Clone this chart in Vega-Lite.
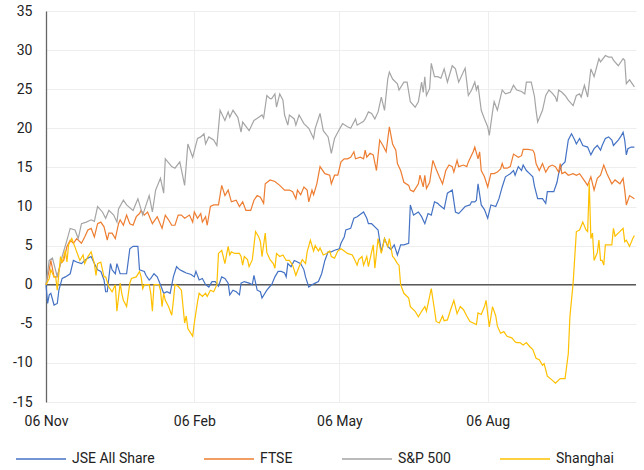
{
  "$schema": "https://vega.github.io/schema/vega-lite/v6.json",
  "width": 590,
  "height": 391,
  "autosize": {"type": "none"},
  "padding": {"left": 46, "top": 11, "right": 8, "bottom": 68},
  "background": "#ffffff",
  "config": {
    "font": "Roboto",
    "view": {"stroke": null},
    "axis": {"labelFont": "Roboto", "labelFontSize": 14, "labelColor": "#222222", "ticks": false, "gridColor": "#eeeeee", "gridWidth": 1, "title": null}
  },
  "datasets": {
    "jse": [
      {"date":"2023-11-06","value":0},{"date":"2023-11-07","value":-2.4},{"date":"2023-11-08","value":-1.3},{"date":"2023-11-09","value":-1.1},{"date":"2023-11-11","value":-2.6},{"date":"2023-11-13","value":-2.4},{"date":"2023-11-14","value":-0.7},{"date":"2023-11-16","value":0.8},{"date":"2023-11-18","value":1.0},{"date":"2023-11-21","value":1.4},{"date":"2023-11-23","value":3.1},{"date":"2023-11-25","value":2.9},{"date":"2023-11-28","value":2.7},{"date":"2023-11-30","value":3.1},{"date":"2023-12-02","value":3.4},{"date":"2023-12-04","value":3.6},{"date":"2023-12-06","value":2.7},{"date":"2023-12-08","value":1.9},{"date":"2023-12-10","value":1.7},{"date":"2023-12-12","value":0.6},{"date":"2023-12-13","value":-0.9},{"date":"2023-12-14","value":-0.9},{"date":"2023-12-16","value":2.7},{"date":"2023-12-17","value":1.9},{"date":"2023-12-19","value":1.4},{"date":"2023-12-20","value":2.7},{"date":"2023-12-22","value":1.4},{"date":"2023-12-24","value":1.4},{"date":"2023-12-26","value":1.4},{"date":"2023-12-28","value":4.6},{"date":"2023-12-30","value":4.9},{"date":"2024-01-02","value":4.9},{"date":"2024-01-03","value":1.9},{"date":"2024-01-06","value":1.7},{"date":"2024-01-07","value":1.2},{"date":"2024-01-09","value":0.6},{"date":"2024-01-10","value":0.8},{"date":"2024-01-12","value":1.4},{"date":"2024-01-14","value":1.0},{"date":"2024-01-16","value":0.0},{"date":"2024-01-18","value":-1.1},{"date":"2024-01-20","value":-0.9},{"date":"2024-01-22","value":-1.1},{"date":"2024-01-24","value":1.0},{"date":"2024-01-26","value":2.3},{"date":"2024-01-28","value":1.9},{"date":"2024-01-30","value":1.7},{"date":"2024-02-01","value":1.5},{"date":"2024-02-04","value":1.3},{"date":"2024-02-06","value":1.0},{"date":"2024-02-07","value":1.7},{"date":"2024-02-09","value":0.6},{"date":"2024-02-11","value":0.8},{"date":"2024-02-13","value":0.0},{"date":"2024-02-15","value":-0.3},{"date":"2024-02-17","value":0.4},{"date":"2024-02-19","value":0.4},{"date":"2024-02-21","value":-0.2},{"date":"2024-02-23","value":1.0},{"date":"2024-02-25","value":0.8},{"date":"2024-02-27","value":0.2},{"date":"2024-02-28","value":-1.3},{"date":"2024-03-01","value":-0.7},{"date":"2024-03-03","value":-0.9},{"date":"2024-03-05","value":-1.3},{"date":"2024-03-06","value":0.2},{"date":"2024-03-08","value":0.4},{"date":"2024-03-11","value":0.2},{"date":"2024-03-13","value":0.0},{"date":"2024-03-14","value":1.2},{"date":"2024-03-16","value":-0.7},{"date":"2024-03-18","value":-0.9},{"date":"2024-03-19","value":-1.7},{"date":"2024-03-22","value":-0.7},{"date":"2024-03-24","value":-0.2},{"date":"2024-03-25","value":0.0},{"date":"2024-03-27","value":1.0},{"date":"2024-03-29","value":1.7},{"date":"2024-03-31","value":1.7},{"date":"2024-04-02","value":1.5},{"date":"2024-04-03","value":1.0},{"date":"2024-04-04","value":2.7},{"date":"2024-04-06","value":2.3},{"date":"2024-04-08","value":3.1},{"date":"2024-04-10","value":2.9},{"date":"2024-04-12","value":2.7},{"date":"2024-04-14","value":1.9},{"date":"2024-04-15","value":1.0},{"date":"2024-04-17","value":-0.3},{"date":"2024-04-19","value":0.0},{"date":"2024-04-21","value":0.2},{"date":"2024-04-23","value":0.4},{"date":"2024-04-25","value":1.4},{"date":"2024-04-27","value":3.1},{"date":"2024-04-29","value":4.2},{"date":"2024-05-01","value":4.2},{"date":"2024-05-03","value":4.4},{"date":"2024-05-06","value":4.6},{"date":"2024-05-07","value":5.3},{"date":"2024-05-09","value":6.1},{"date":"2024-05-10","value":7.0},{"date":"2024-05-13","value":7.2},{"date":"2024-05-15","value":8.5},{"date":"2024-05-17","value":8.7},{"date":"2024-05-21","value":9.3},{"date":"2024-05-23","value":8.5},{"date":"2024-05-24","value":7.8},{"date":"2024-05-26","value":7.8},{"date":"2024-05-28","value":7.4},{"date":"2024-05-30","value":7.0},{"date":"2024-06-01","value":4.2},{"date":"2024-06-03","value":5.9},{"date":"2024-06-05","value":4.9},{"date":"2024-06-07","value":4.5},{"date":"2024-06-09","value":5.1},{"date":"2024-06-11","value":3.8},{"date":"2024-06-13","value":5.1},{"date":"2024-06-15","value":5.1},{"date":"2024-06-18","value":5.3},{"date":"2024-06-19","value":10.2},{"date":"2024-06-21","value":8.9},{"date":"2024-06-24","value":9.3},{"date":"2024-06-26","value":8.7},{"date":"2024-06-28","value":7.8},{"date":"2024-06-30","value":9.1},{"date":"2024-07-02","value":8.9},{"date":"2024-07-04","value":10.6},{"date":"2024-07-06","value":10.4},{"date":"2024-07-07","value":10.2},{"date":"2024-07-10","value":9.7},{"date":"2024-07-12","value":11.7},{"date":"2024-07-15","value":12.1},{"date":"2024-07-17","value":9.3},{"date":"2024-07-19","value":9.1},{"date":"2024-07-23","value":10.0},{"date":"2024-07-26","value":10.2},{"date":"2024-07-27","value":10.6},{"date":"2024-07-29","value":10.6},{"date":"2024-07-30","value":10.8},{"date":"2024-07-31","value":12.9},{"date":"2024-08-02","value":10.2},{"date":"2024-08-04","value":9.6},{"date":"2024-08-06","value":8.5},{"date":"2024-08-08","value":10.2},{"date":"2024-08-11","value":10.0},{"date":"2024-08-13","value":11.0},{"date":"2024-08-15","value":12.5},{"date":"2024-08-17","value":13.8},{"date":"2024-08-20","value":14.2},{"date":"2024-08-22","value":14.6},{"date":"2024-08-23","value":14.0},{"date":"2024-08-25","value":15.1},{"date":"2024-08-27","value":14.6},{"date":"2024-08-28","value":15.3},{"date":"2024-08-30","value":14.6},{"date":"2024-09-01","value":14.2},{"date":"2024-09-03","value":13.8},{"date":"2024-09-04","value":12.6},{"date":"2024-09-06","value":11.0},{"date":"2024-09-09","value":11.0},{"date":"2024-09-11","value":10.4},{"date":"2024-09-12","value":11.9},{"date":"2024-09-14","value":11.9},{"date":"2024-09-16","value":11.9},{"date":"2024-09-18","value":13.1},{"date":"2024-09-19","value":14.2},{"date":"2024-09-21","value":15.3},{"date":"2024-09-23","value":15.7},{"date":"2024-09-25","value":18.5},{"date":"2024-09-27","value":19.3},{"date":"2024-09-29","value":18.5},{"date":"2024-09-30","value":18.0},{"date":"2024-10-02","value":18.7},{"date":"2024-10-04","value":17.8},{"date":"2024-10-07","value":17.6},{"date":"2024-10-09","value":16.6},{"date":"2024-10-11","value":17.4},{"date":"2024-10-13","value":17.8},{"date":"2024-10-15","value":17.2},{"date":"2024-10-16","value":17.8},{"date":"2024-10-18","value":18.7},{"date":"2024-10-20","value":18.9},{"date":"2024-10-22","value":18.5},{"date":"2024-10-23","value":17.8},{"date":"2024-10-26","value":18.5},{"date":"2024-10-28","value":19.1},{"date":"2024-10-29","value":19.5},{"date":"2024-10-30","value":18.5},{"date":"2024-10-31","value":16.6},{"date":"2024-11-01","value":17.4},{"date":"2024-11-03","value":17.6},{"date":"2024-11-05","value":17.6}
    ],
    "ftse": [
      {"date":"2023-11-06","value":0},{"date":"2023-11-08","value":1.9},{"date":"2023-11-09","value":3.1},{"date":"2023-11-11","value":1.0},{"date":"2023-11-13","value":1.0},{"date":"2023-11-15","value":2.7},{"date":"2023-11-17","value":3.1},{"date":"2023-11-19","value":4.9},{"date":"2023-11-21","value":5.7},{"date":"2023-11-23","value":5.3},{"date":"2023-11-25","value":5.9},{"date":"2023-11-28","value":5.3},{"date":"2023-11-30","value":6.1},{"date":"2023-12-02","value":7.0},{"date":"2023-12-04","value":7.2},{"date":"2023-12-06","value":6.1},{"date":"2023-12-08","value":7.8},{"date":"2023-12-10","value":8.0},{"date":"2023-12-12","value":7.4},{"date":"2023-12-14","value":5.7},{"date":"2023-12-15","value":6.6},{"date":"2023-12-17","value":6.6},{"date":"2023-12-19","value":5.9},{"date":"2023-12-21","value":7.8},{"date":"2023-12-22","value":8.3},{"date":"2023-12-24","value":7.6},{"date":"2023-12-26","value":8.9},{"date":"2023-12-28","value":7.8},{"date":"2023-12-30","value":7.6},{"date":"2024-01-01","value":8.7},{"date":"2024-01-03","value":9.1},{"date":"2024-01-04","value":9.5},{"date":"2024-01-06","value":8.9},{"date":"2024-01-08","value":9.3},{"date":"2024-01-11","value":7.8},{"date":"2024-01-14","value":8.7},{"date":"2024-01-17","value":7.2},{"date":"2024-01-19","value":8.9},{"date":"2024-01-21","value":8.3},{"date":"2024-01-23","value":7.6},{"date":"2024-01-25","value":7.6},{"date":"2024-01-27","value":8.9},{"date":"2024-01-29","value":8.9},{"date":"2024-01-31","value":8.5},{"date":"2024-02-03","value":8.9},{"date":"2024-02-05","value":8.0},{"date":"2024-02-06","value":9.3},{"date":"2024-02-08","value":8.5},{"date":"2024-02-10","value":9.1},{"date":"2024-02-11","value":8.0},{"date":"2024-02-13","value":8.7},{"date":"2024-02-14","value":7.6},{"date":"2024-02-16","value":10.0},{"date":"2024-02-18","value":10.2},{"date":"2024-02-21","value":10.2},{"date":"2024-02-23","value":12.7},{"date":"2024-02-25","value":11.4},{"date":"2024-02-27","value":12.1},{"date":"2024-02-29","value":10.6},{"date":"2024-03-03","value":10.8},{"date":"2024-03-05","value":10.0},{"date":"2024-03-07","value":10.6},{"date":"2024-03-09","value":9.5},{"date":"2024-03-12","value":9.5},{"date":"2024-03-14","value":10.8},{"date":"2024-03-16","value":11.4},{"date":"2024-03-18","value":11.2},{"date":"2024-03-20","value":10.4},{"date":"2024-03-21","value":12.9},{"date":"2024-03-24","value":13.4},{"date":"2024-03-27","value":13.2},{"date":"2024-03-30","value":12.7},{"date":"2024-04-02","value":12.1},{"date":"2024-04-05","value":12.1},{"date":"2024-04-07","value":11.9},{"date":"2024-04-09","value":11.0},{"date":"2024-04-10","value":12.1},{"date":"2024-04-12","value":11.5},{"date":"2024-04-14","value":12.5},{"date":"2024-04-16","value":12.1},{"date":"2024-04-17","value":10.6},{"date":"2024-04-19","value":12.1},{"date":"2024-04-20","value":11.5},{"date":"2024-04-22","value":12.9},{"date":"2024-04-24","value":15.1},{"date":"2024-04-27","value":14.2},{"date":"2024-04-30","value":14.0},{"date":"2024-05-01","value":12.9},{"date":"2024-05-03","value":14.0},{"date":"2024-05-05","value":14.0},{"date":"2024-05-07","value":15.7},{"date":"2024-05-09","value":16.1},{"date":"2024-05-11","value":16.1},{"date":"2024-05-13","value":16.3},{"date":"2024-05-15","value":17.0},{"date":"2024-05-16","value":16.1},{"date":"2024-05-19","value":16.3},{"date":"2024-05-21","value":16.1},{"date":"2024-05-22","value":17.2},{"date":"2024-05-23","value":16.3},{"date":"2024-05-25","value":16.8},{"date":"2024-05-27","value":16.6},{"date":"2024-05-29","value":14.6},{"date":"2024-05-31","value":18.5},{"date":"2024-06-02","value":17.8},{"date":"2024-06-04","value":17.0},{"date":"2024-06-06","value":20.2},{"date":"2024-06-08","value":18.0},{"date":"2024-06-10","value":17.2},{"date":"2024-06-11","value":15.5},{"date":"2024-06-13","value":14.6},{"date":"2024-06-15","value":13.1},{"date":"2024-06-18","value":12.7},{"date":"2024-06-19","value":12.1},{"date":"2024-06-21","value":11.9},{"date":"2024-06-24","value":12.9},{"date":"2024-06-25","value":14.0},{"date":"2024-06-27","value":12.5},{"date":"2024-06-28","value":14.0},{"date":"2024-06-29","value":12.3},{"date":"2024-07-01","value":13.1},{"date":"2024-07-03","value":15.9},{"date":"2024-07-05","value":14.8},{"date":"2024-07-07","value":13.8},{"date":"2024-07-09","value":12.9},{"date":"2024-07-11","value":14.6},{"date":"2024-07-13","value":15.3},{"date":"2024-07-15","value":15.1},{"date":"2024-07-16","value":14.4},{"date":"2024-07-18","value":15.9},{"date":"2024-07-19","value":15.1},{"date":"2024-07-22","value":15.3},{"date":"2024-07-24","value":15.1},{"date":"2024-07-25","value":15.7},{"date":"2024-07-28","value":17.0},{"date":"2024-07-29","value":17.6},{"date":"2024-07-31","value":16.1},{"date":"2024-08-01","value":17.0},{"date":"2024-08-02","value":14.6},{"date":"2024-08-04","value":13.8},{"date":"2024-08-06","value":12.5},{"date":"2024-08-08","value":14.2},{"date":"2024-08-10","value":14.2},{"date":"2024-08-12","value":14.4},{"date":"2024-08-14","value":14.8},{"date":"2024-08-15","value":15.5},{"date":"2024-08-16","value":14.9},{"date":"2024-08-18","value":14.9},{"date":"2024-08-20","value":15.1},{"date":"2024-08-22","value":16.7},{"date":"2024-08-25","value":16.3},{"date":"2024-08-27","value":16.5},{"date":"2024-08-28","value":17.3},{"date":"2024-08-31","value":17.3},{"date":"2024-09-03","value":17.2},{"date":"2024-09-04","value":16.8},{"date":"2024-09-05","value":15.5},{"date":"2024-09-07","value":14.6},{"date":"2024-09-09","value":15.5},{"date":"2024-09-11","value":14.4},{"date":"2024-09-13","value":15.1},{"date":"2024-09-15","value":15.3},{"date":"2024-09-17","value":15.1},{"date":"2024-09-19","value":14.4},{"date":"2024-09-20","value":15.5},{"date":"2024-09-21","value":14.2},{"date":"2024-09-23","value":14.4},{"date":"2024-09-25","value":14.0},{"date":"2024-09-28","value":14.2},{"date":"2024-09-30","value":14.0},{"date":"2024-10-02","value":14.2},{"date":"2024-10-04","value":13.6},{"date":"2024-10-07","value":12.7},{"date":"2024-10-09","value":13.8},{"date":"2024-10-11","value":12.1},{"date":"2024-10-13","value":13.6},{"date":"2024-10-15","value":14.0},{"date":"2024-10-17","value":15.3},{"date":"2024-10-19","value":14.2},{"date":"2024-10-22","value":12.9},{"date":"2024-10-24","value":13.4},{"date":"2024-10-27","value":12.9},{"date":"2024-10-29","value":13.6},{"date":"2024-10-30","value":12.1},{"date":"2024-10-31","value":10.2},{"date":"2024-11-02","value":11.4},{"date":"2024-11-05","value":11.0}
    ],
    "sp": [
      {"date":"2023-11-06","value":0},{"date":"2023-11-08","value":3.1},{"date":"2023-11-10","value":3.4},{"date":"2023-11-13","value":1.0},{"date":"2023-11-16","value":3.6},{"date":"2023-11-19","value":5.7},{"date":"2023-11-21","value":7.2},{"date":"2023-11-24","value":7.0},{"date":"2023-11-26","value":5.9},{"date":"2023-11-28","value":7.8},{"date":"2023-12-01","value":8.0},{"date":"2023-12-04","value":8.3},{"date":"2023-12-06","value":8.1},{"date":"2023-12-08","value":10.0},{"date":"2023-12-11","value":9.3},{"date":"2023-12-13","value":8.5},{"date":"2023-12-15","value":9.5},{"date":"2023-12-18","value":8.9},{"date":"2023-12-20","value":8.0},{"date":"2023-12-21","value":9.7},{"date":"2023-12-24","value":10.8},{"date":"2023-12-26","value":10.2},{"date":"2023-12-30","value":9.5},{"date":"2024-01-02","value":11.0},{"date":"2024-01-05","value":8.9},{"date":"2024-01-09","value":11.4},{"date":"2024-01-11","value":9.3},{"date":"2024-01-13","value":12.1},{"date":"2024-01-16","value":13.6},{"date":"2024-01-18","value":11.7},{"date":"2024-01-19","value":16.1},{"date":"2024-01-23","value":15.1},{"date":"2024-01-25","value":14.9},{"date":"2024-01-28","value":15.7},{"date":"2024-01-31","value":12.7},{"date":"2024-02-02","value":18.0},{"date":"2024-02-05","value":16.3},{"date":"2024-02-08","value":18.7},{"date":"2024-02-10","value":18.9},{"date":"2024-02-12","value":19.3},{"date":"2024-02-13","value":18.0},{"date":"2024-02-15","value":18.9},{"date":"2024-02-18","value":18.5},{"date":"2024-02-20","value":17.8},{"date":"2024-02-22","value":22.3},{"date":"2024-02-25","value":21.0},{"date":"2024-02-27","value":22.1},{"date":"2024-02-28","value":21.4},{"date":"2024-03-01","value":22.3},{"date":"2024-03-04","value":21.4},{"date":"2024-03-06","value":19.5},{"date":"2024-03-07","value":20.8},{"date":"2024-03-11","value":19.7},{"date":"2024-03-14","value":21.0},{"date":"2024-03-17","value":21.4},{"date":"2024-03-19","value":21.7},{"date":"2024-03-20","value":21.3},{"date":"2024-03-22","value":24.2},{"date":"2024-03-24","value":23.8},{"date":"2024-03-25","value":23.8},{"date":"2024-03-27","value":24.4},{"date":"2024-03-28","value":22.7},{"date":"2024-03-30","value":24.4},{"date":"2024-04-01","value":23.6},{"date":"2024-04-02","value":21.7},{"date":"2024-04-04","value":20.4},{"date":"2024-04-05","value":21.7},{"date":"2024-04-08","value":21.2},{"date":"2024-04-09","value":20.4},{"date":"2024-04-11","value":21.7},{"date":"2024-04-14","value":20.6},{"date":"2024-04-17","value":20.0},{"date":"2024-04-20","value":18.7},{"date":"2024-04-21","value":20.0},{"date":"2024-04-24","value":21.9},{"date":"2024-04-26","value":19.7},{"date":"2024-04-29","value":18.9},{"date":"2024-05-01","value":16.8},{"date":"2024-05-03","value":18.7},{"date":"2024-05-05","value":19.5},{"date":"2024-05-08","value":20.6},{"date":"2024-05-11","value":20.2},{"date":"2024-05-13","value":20.0},{"date":"2024-05-16","value":21.2},{"date":"2024-05-17","value":20.4},{"date":"2024-05-21","value":20.9},{"date":"2024-05-22","value":21.2},{"date":"2024-05-24","value":22.1},{"date":"2024-05-26","value":21.9},{"date":"2024-05-28","value":21.2},{"date":"2024-05-30","value":22.1},{"date":"2024-06-01","value":24.0},{"date":"2024-06-03","value":22.3},{"date":"2024-06-05","value":26.3},{"date":"2024-06-06","value":27.2},{"date":"2024-06-08","value":26.3},{"date":"2024-06-11","value":25.7},{"date":"2024-06-12","value":24.9},{"date":"2024-06-15","value":25.9},{"date":"2024-06-17","value":25.9},{"date":"2024-06-19","value":23.4},{"date":"2024-06-22","value":22.7},{"date":"2024-06-24","value":23.4},{"date":"2024-06-26","value":25.9},{"date":"2024-06-27","value":24.6},{"date":"2024-06-28","value":26.6},{"date":"2024-06-29","value":24.2},{"date":"2024-07-01","value":25.1},{"date":"2024-07-02","value":28.3},{"date":"2024-07-04","value":26.6},{"date":"2024-07-06","value":26.6},{"date":"2024-07-08","value":26.4},{"date":"2024-07-10","value":27.6},{"date":"2024-07-12","value":25.9},{"date":"2024-07-15","value":28.0},{"date":"2024-07-17","value":27.6},{"date":"2024-07-19","value":25.9},{"date":"2024-07-23","value":27.7},{"date":"2024-07-25","value":24.2},{"date":"2024-07-27","value":24.9},{"date":"2024-07-29","value":25.9},{"date":"2024-07-30","value":24.9},{"date":"2024-07-31","value":25.5},{"date":"2024-08-02","value":22.3},{"date":"2024-08-04","value":21.2},{"date":"2024-08-06","value":20.2},{"date":"2024-08-07","value":19.1},{"date":"2024-08-09","value":22.1},{"date":"2024-08-10","value":23.4},{"date":"2024-08-12","value":22.3},{"date":"2024-08-15","value":24.9},{"date":"2024-08-17","value":24.4},{"date":"2024-08-20","value":24.6},{"date":"2024-08-22","value":25.5},{"date":"2024-08-24","value":24.9},{"date":"2024-08-27","value":24.7},{"date":"2024-08-29","value":24.4},{"date":"2024-08-30","value":25.9},{"date":"2024-09-02","value":25.9},{"date":"2024-09-04","value":24.1},{"date":"2024-09-05","value":22.3},{"date":"2024-09-06","value":20.8},{"date":"2024-09-09","value":22.3},{"date":"2024-09-11","value":24.2},{"date":"2024-09-13","value":24.9},{"date":"2024-09-15","value":24.5},{"date":"2024-09-17","value":24.0},{"date":"2024-09-18","value":23.4},{"date":"2024-09-19","value":24.9},{"date":"2024-09-21","value":24.6},{"date":"2024-09-23","value":24.2},{"date":"2024-09-25","value":23.6},{"date":"2024-09-28","value":22.9},{"date":"2024-09-30","value":24.2},{"date":"2024-10-02","value":24.4},{"date":"2024-10-03","value":24.0},{"date":"2024-10-05","value":25.5},{"date":"2024-10-07","value":24.0},{"date":"2024-10-09","value":27.6},{"date":"2024-10-11","value":26.6},{"date":"2024-10-14","value":28.9},{"date":"2024-10-15","value":28.5},{"date":"2024-10-18","value":29.3},{"date":"2024-10-20","value":29.1},{"date":"2024-10-22","value":29.1},{"date":"2024-10-23","value":28.7},{"date":"2024-10-26","value":28.0},{"date":"2024-10-29","value":28.9},{"date":"2024-10-30","value":28.7},{"date":"2024-10-31","value":25.7},{"date":"2024-11-02","value":26.2},{"date":"2024-11-05","value":25.3}
    ],
    "sh": [
      {"date":"2023-11-06","value":0},{"date":"2023-11-08","value":0.8},{"date":"2023-11-09","value":1.9},{"date":"2023-11-11","value":1.0},{"date":"2023-11-12","value":1.0},{"date":"2023-11-13","value":-0.7},{"date":"2023-11-15","value":3.6},{"date":"2023-11-16","value":2.8},{"date":"2023-11-18","value":4.4},{"date":"2023-11-19","value":2.9},{"date":"2023-11-20","value":5.1},{"date":"2023-11-22","value":5.9},{"date":"2023-11-24","value":4.8},{"date":"2023-11-27","value":3.1},{"date":"2023-11-29","value":3.8},{"date":"2023-11-30","value":2.7},{"date":"2023-12-02","value":3.6},{"date":"2023-12-04","value":4.2},{"date":"2023-12-06","value":2.7},{"date":"2023-12-07","value":1.2},{"date":"2023-12-08","value":2.7},{"date":"2023-12-10","value":2.9},{"date":"2023-12-12","value":1.0},{"date":"2023-12-13","value":1.0},{"date":"2023-12-15","value":-0.3},{"date":"2023-12-17","value":-0.9},{"date":"2023-12-19","value":0.0},{"date":"2023-12-20","value":-3.4},{"date":"2023-12-22","value":0.2},{"date":"2023-12-23","value":-1.1},{"date":"2023-12-24","value":-2.0},{"date":"2023-12-26","value":-2.8},{"date":"2023-12-28","value":0.2},{"date":"2023-12-29","value":0.8},{"date":"2024-01-01","value":1.0},{"date":"2024-01-03","value":1.7},{"date":"2024-01-04","value":1.0},{"date":"2024-01-05","value":-0.5},{"date":"2024-01-06","value":0.0},{"date":"2024-01-09","value":0.0},{"date":"2024-01-10","value":-1.1},{"date":"2024-01-11","value":-3.4},{"date":"2024-01-12","value":0.0},{"date":"2024-01-15","value":0.0},{"date":"2024-01-16","value":-0.7},{"date":"2024-01-17","value":-2.8},{"date":"2024-01-18","value":-1.1},{"date":"2024-01-19","value":-2.0},{"date":"2024-01-21","value":-2.8},{"date":"2024-01-23","value":-3.9},{"date":"2024-01-24","value":-2.1},{"date":"2024-01-25","value":0.0},{"date":"2024-01-27","value":-0.2},{"date":"2024-01-29","value":-0.7},{"date":"2024-01-31","value":-4.9},{"date":"2024-02-01","value":-4.0},{"date":"2024-02-02","value":-5.6},{"date":"2024-02-05","value":-6.6},{"date":"2024-02-06","value":-4.9},{"date":"2024-02-08","value":-2.2},{"date":"2024-02-09","value":-1.1},{"date":"2024-02-11","value":-1.5},{"date":"2024-02-13","value":-1.1},{"date":"2024-02-14","value":-1.5},{"date":"2024-02-16","value":-0.7},{"date":"2024-02-18","value":-0.9},{"date":"2024-02-20","value":0.0},{"date":"2024-02-21","value":4.0},{"date":"2024-02-23","value":4.4},{"date":"2024-02-25","value":2.7},{"date":"2024-02-26","value":3.8},{"date":"2024-02-27","value":4.9},{"date":"2024-02-28","value":3.8},{"date":"2024-02-29","value":4.2},{"date":"2024-03-02","value":4.0},{"date":"2024-03-05","value":4.0},{"date":"2024-03-06","value":3.6},{"date":"2024-03-07","value":2.5},{"date":"2024-03-08","value":3.6},{"date":"2024-03-10","value":3.2},{"date":"2024-03-11","value":2.3},{"date":"2024-03-13","value":3.2},{"date":"2024-03-15","value":6.8},{"date":"2024-03-17","value":6.1},{"date":"2024-03-18","value":5.5},{"date":"2024-03-19","value":3.6},{"date":"2024-03-21","value":6.6},{"date":"2024-03-22","value":4.1},{"date":"2024-03-24","value":3.2},{"date":"2024-03-26","value":2.7},{"date":"2024-03-27","value":2.1},{"date":"2024-03-28","value":4.0},{"date":"2024-03-30","value":3.6},{"date":"2024-04-01","value":3.8},{"date":"2024-04-03","value":3.1},{"date":"2024-04-05","value":3.1},{"date":"2024-04-07","value":2.5},{"date":"2024-04-09","value":1.2},{"date":"2024-04-11","value":2.3},{"date":"2024-04-13","value":3.2},{"date":"2024-04-15","value":2.7},{"date":"2024-04-16","value":4.2},{"date":"2024-04-18","value":5.7},{"date":"2024-04-20","value":4.3},{"date":"2024-04-21","value":5.0},{"date":"2024-04-23","value":4.3},{"date":"2024-04-24","value":4.7},{"date":"2024-04-26","value":3.8},{"date":"2024-04-28","value":4.0},{"date":"2024-04-30","value":4.3},{"date":"2024-05-01","value":3.6},{"date":"2024-05-03","value":3.4},{"date":"2024-05-05","value":4.3},{"date":"2024-05-07","value":4.6},{"date":"2024-05-09","value":4.3},{"date":"2024-05-11","value":4.0},{"date":"2024-05-14","value":3.8},{"date":"2024-05-15","value":3.4},{"date":"2024-05-17","value":2.5},{"date":"2024-05-18","value":3.2},{"date":"2024-05-20","value":3.6},{"date":"2024-05-21","value":2.5},{"date":"2024-05-23","value":3.6},{"date":"2024-05-24","value":2.3},{"date":"2024-05-26","value":4.2},{"date":"2024-05-27","value":5.1},{"date":"2024-05-28","value":2.1},{"date":"2024-05-30","value":5.9},{"date":"2024-06-01","value":4.0},{"date":"2024-06-02","value":4.9},{"date":"2024-06-03","value":5.9},{"date":"2024-06-05","value":4.9},{"date":"2024-06-06","value":5.9},{"date":"2024-06-08","value":3.6},{"date":"2024-06-09","value":3.4},{"date":"2024-06-11","value":2.7},{"date":"2024-06-12","value":2.5},{"date":"2024-06-13","value":0.0},{"date":"2024-06-15","value":-1.1},{"date":"2024-06-18","value":-1.7},{"date":"2024-06-19","value":-2.8},{"date":"2024-06-22","value":-3.4},{"date":"2024-06-24","value":-4.1},{"date":"2024-06-26","value":-3.4},{"date":"2024-06-28","value":-2.8},{"date":"2024-06-29","value":-3.4},{"date":"2024-07-02","value":-0.5},{"date":"2024-07-04","value":-3.2},{"date":"2024-07-05","value":-4.7},{"date":"2024-07-07","value":-4.9},{"date":"2024-07-09","value":-4.0},{"date":"2024-07-10","value":-4.6},{"date":"2024-07-12","value":-4.5},{"date":"2024-07-14","value":-3.2},{"date":"2024-07-16","value":-2.0},{"date":"2024-07-18","value":-3.7},{"date":"2024-07-20","value":-2.8},{"date":"2024-07-22","value":-3.2},{"date":"2024-07-24","value":-4.0},{"date":"2024-07-26","value":-4.7},{"date":"2024-07-28","value":-4.9},{"date":"2024-07-30","value":-5.1},{"date":"2024-07-31","value":-3.6},{"date":"2024-08-02","value":-3.8},{"date":"2024-08-04","value":-2.8},{"date":"2024-08-05","value":-2.0},{"date":"2024-08-07","value":-5.4},{"date":"2024-08-09","value":-2.8},{"date":"2024-08-11","value":-4.0},{"date":"2024-08-12","value":-5.3},{"date":"2024-08-14","value":-6.2},{"date":"2024-08-16","value":-6.0},{"date":"2024-08-18","value":-6.6},{"date":"2024-08-21","value":-6.8},{"date":"2024-08-23","value":-7.3},{"date":"2024-08-24","value":-7.4},{"date":"2024-08-26","value":-7.4},{"date":"2024-08-28","value":-7.7},{"date":"2024-08-30","value":-7.4},{"date":"2024-09-01","value":-7.9},{"date":"2024-09-03","value":-8.3},{"date":"2024-09-05","value":-9.4},{"date":"2024-09-07","value":-9.6},{"date":"2024-09-09","value":-10.3},{"date":"2024-09-10","value":-10.1},{"date":"2024-09-12","value":-11.7},{"date":"2024-09-15","value":-12.2},{"date":"2024-09-17","value":-12.6},{"date":"2024-09-19","value":-12.2},{"date":"2024-09-20","value":-12.0},{"date":"2024-09-23","value":-12.0},{"date":"2024-09-25","value":-8.8},{"date":"2024-09-26","value":-4.1},{"date":"2024-09-28","value":0.2},{"date":"2024-09-30","value":6.8},{"date":"2024-10-02","value":7.0},{"date":"2024-10-04","value":8.0},{"date":"2024-10-06","value":7.0},{"date":"2024-10-07","value":6.8},{"date":"2024-10-08","value":13.0},{"date":"2024-10-09","value":5.9},{"date":"2024-10-10","value":6.6},{"date":"2024-10-11","value":3.1},{"date":"2024-10-13","value":4.1},{"date":"2024-10-14","value":5.7},{"date":"2024-10-15","value":3.1},{"date":"2024-10-16","value":3.1},{"date":"2024-10-17","value":2.5},{"date":"2024-10-18","value":5.1},{"date":"2024-10-20","value":5.1},{"date":"2024-10-22","value":5.1},{"date":"2024-10-23","value":7.2},{"date":"2024-10-24","value":6.2},{"date":"2024-10-26","value":6.6},{"date":"2024-10-29","value":7.2},{"date":"2024-10-30","value":5.5},{"date":"2024-10-31","value":5.7},{"date":"2024-11-02","value":4.9},{"date":"2024-11-04","value":5.9},{"date":"2024-11-05","value":6.3}
    ]
  },
  "encoding": {
    "x": {
      "field": "date", "type": "temporal",
      "scale": {"type": "utc", "domain": [{"year": 2023, "month": "nov", "date": 6, "utc": true}, {"year": 2024, "month": "nov", "date": 6, "utc": true}]},
      "axis": {"format": "%d %b", "values": [{"year": 2023, "month": "nov", "date": 6, "utc": true}, {"year": 2024, "month": "feb", "date": 6, "utc": true}, {"year": 2024, "month": "may", "date": 6, "utc": true}, {"year": 2024, "month": "aug", "date": 6, "utc": true}], "domain": false, "grid": true, "labelPadding": 12, "labelFlush": false}
    },
    "y": {
      "field": "value", "type": "quantitative",
      "scale": {"domain": [-15, 35], "nice": false},
      "axis": {"values": [-15, -10, -5, 0, 5, 10, 15, 20, 25, 30, 35], "labelExpr": "'' + datum.value", "domain": true, "domainColor": "#666666", "domainWidth": 1.3, "grid": true, "labelPadding": 14}
    },
    "color": {
      "scale": {"domain": ["JSE All Share", "FTSE", "S&P 500", "Shanghai"], "range": ["#4472C4", "#ED7D31", "#A5A5A5", "#FFC000"]},
      "legend": {"orient": "none", "legendX": -31, "legendY": 422, "direction": "horizontal", "title": null, "symbolType": "stroke", "symbolSize": 2500, "symbolStrokeWidth": 1.5, "labelFont": "Roboto", "labelFontSize": 14, "labelColor": "#222222", "labelOffset": 5, "columnPadding": 46, "padding": 0}
    }
  },
  "layer": [
    {"data": {"values": [{"v": 0}]}, "mark": {"type": "rule", "color": "#5a5a5a", "strokeWidth": 1.6}, "encoding": {"x": null, "color": null, "y": {"field": "v", "type": "quantitative"}}},
    {"data": {"name": "jse"}, "mark": {"type": "line", "strokeWidth": 1.2}, "encoding": {"color": {"datum": "JSE All Share"}}},
    {"data": {"name": "ftse"}, "mark": {"type": "line", "strokeWidth": 1.2}, "encoding": {"color": {"datum": "FTSE"}}},
    {"data": {"name": "sp"}, "mark": {"type": "line", "strokeWidth": 1.2}, "encoding": {"color": {"datum": "S&P 500"}}},
    {"data": {"name": "sh"}, "mark": {"type": "line", "strokeWidth": 1.2}, "encoding": {"color": {"datum": "Shanghai"}}}
  ]
}
